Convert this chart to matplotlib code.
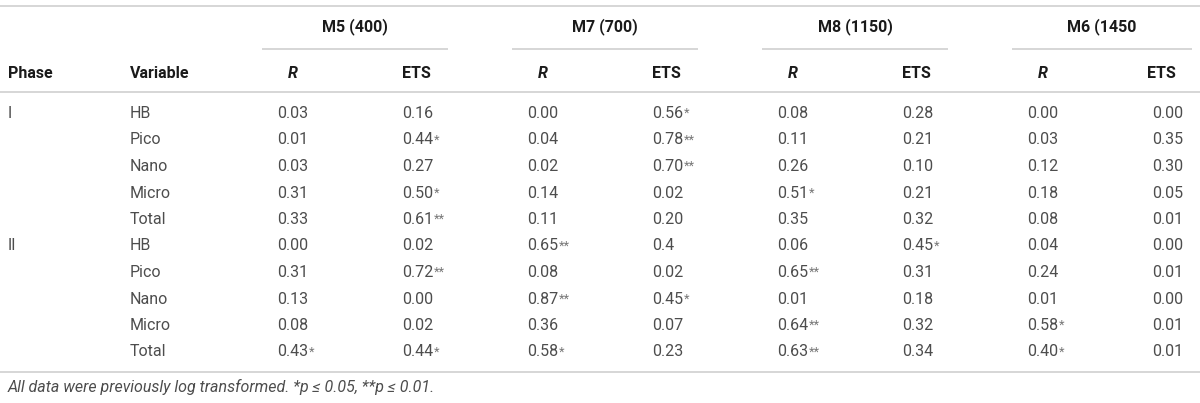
import matplotlib
matplotlib.use('Agg')
import matplotlib.pyplot as plt

plt.rcParams['font.family'] = ['Roboto', 'DejaVu Sans']

# table content
phases = ["I", "", "", "", "", "II", "", "", "", ""]
variables = ["HB", "Pico", "Nano", "Micro", "Total", "HB", "Pico", "Nano", "Micro", "Total"]
sites = ["M5 (400)", "M7 (700)", "M8 (1150)", "M6 (1450"]

m5_r = ["0.03", "0.01", "0.03", "0.31", "0.33", "0.00", "0.31", "0.13", "0.08", "0.43*"]
m5_ets = ["0.16", "0.44*", "0.27", "0.50*", "0.61**", "0.02", "0.72**", "0.00", "0.02", "0.44*"]
m7_r = ["0.00", "0.04", "0.02", "0.14", "0.11", "0.65**", "0.08", "0.87**", "0.36", "0.58*"]
m7_ets = ["0.56*", "0.78**", "0.70**", "0.02", "0.20", "0.4", "0.02", "0.45*", "0.07", "0.23"]
m8_r = ["0.08", "0.11", "0.26", "0.51*", "0.35", "0.06", "0.65**", "0.01", "0.64**", "0.63**"]
m8_ets = ["0.28", "0.21", "0.10", "0.21", "0.32", "0.45*", "0.31", "0.18", "0.32", "0.34"]
m6_r = ["0.00", "0.03", "0.12", "0.18", "0.08", "0.04", "0.24", "0.01", "0.58*", "0.40*"]
m6_ets = ["0.00", "0.35", "0.30", "0.05", "0.01", "0.00", "0.01", "0.00", "0.01", "0.01"]

footnote = "All data were previously log transformed. *p ≤ 0.05, **p ≤ 0.01."

site_cols = [(m5_r, m5_ets), (m7_r, m7_ets), (m8_r, m8_ets), (m6_r, m6_ets)]

W, H = 1200, 403
fig = plt.figure(figsize=(W / 100, H / 100), dpi=100)
ax = fig.add_axes([0, 0, 1, 1])
ax.set_xlim(0, W)
ax.set_ylim(H, 0)
ax.axis('off')

FS = 11.5
body_col = "#4d4d4d"
head_col = "#1a1a1a"
line_col = "#cfcfcf"
star_col = "#777777"
body_w = 'normal'

# horizontal rules
for y in (6, 92, 372):
    ax.plot([0, W], [y, y], color=line_col, lw=1.2, solid_capstyle='butt')

row_y0, row_dy = 113.5, 26.5
col0 = 277
col_step = 250

# header
ax.text(8, 73, "Phase", fontsize=FS, fontweight='bold', color=head_col, va='center')
ax.text(130, 73, "Variable", fontsize=FS, fontweight='bold', color=head_col, va='center')
for k, name in enumerate(sites):
    xr = col0 + k * col_step
    x_end = min(xr + 171, 1192)
    x_start = xr - 15
    ax.plot([x_start, x_end], [49, 49], color=line_col, lw=1.2, solid_capstyle='butt')
    ax.text((x_start + x_end) / 2, 27, name, fontsize=FS, fontweight='bold',
            color=head_col, ha='center', va='center')
    ax.text(xr + 16, 73, "R", fontsize=FS, fontweight='bold', style='italic',
            color=head_col, ha='center', va='center')
    ax.text(xr + 125 - (5 if k == 3 else 0), 73, "ETS", fontsize=FS,
            fontweight='bold', color=head_col, ha='left', va='center')


def cell(x, y, s):
    num = s.rstrip('*')
    stars = s[len(num):]
    t = ax.text(x, y, num, fontsize=FS, fontweight=body_w, color=body_col, va='center')
    if stars:
        ax.annotate(stars, xy=(1, 1), xycoords=t, xytext=(0.2, -0.5),
                    textcoords='offset points', fontsize=FS * 0.8,
                    fontweight=body_w, color=star_col, ha='left', va='top')


for i in range(len(variables)):
    y = row_y0 + i * row_dy
    if phases[i]:
        ax.text(8, y, phases[i], fontsize=FS, fontweight=body_w, color=body_col, va='center')
    ax.text(130, y, variables[i], fontsize=FS, fontweight=body_w, color=body_col, va='center')
    for k, (rc, ec) in enumerate(site_cols):
        xr = col0 + k * col_step
        cell(xr, y, rc[i])
        cell(xr + 125, y, ec[i])

ax.text(8, 387, footnote, fontsize=FS, fontweight=body_w, style='italic',
        color=body_col, va='center')

fig.savefig("out.png", dpi=100)
plt.close(fig)
